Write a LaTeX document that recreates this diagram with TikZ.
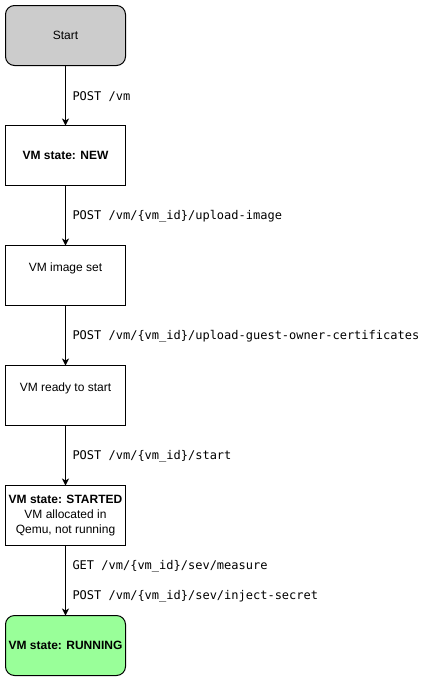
\documentclass[tikz,border=0pt]{standalone}
\usepackage{fontspec}
\setmainfont{Liberation Sans}
\setmonofont{DejaVu Sans Mono}
\usetikzlibrary{positioning,arrows.meta}
\definecolor{startgray}{HTML}{CCCCCC}
\definecolor{rungreen}{HTML}{99FF99}
\tikzset{
  state/.style={draw,line width=1pt,minimum width=120pt,minimum height=60pt,
    inner sep=2pt,outer sep=0pt,align=center,font=\fontsize{12}{15}\selectfont},
  upstate/.style={state,text height=9pt,text depth=17pt},
  endstate/.style={state,rounded corners=9pt},
  lbl/.style={anchor=west,inner sep=0pt,xshift=6.5pt,yshift=-1pt,font=\ttfamily\fontsize{12}{14}\selectfont},
  flow/.style={line width=1pt,-{Stealth[length=7pt,width=7pt,inset=2pt]}}
}
\begin{document}
\begin{tikzpicture}[x=1pt,y=-1pt,node distance=60pt]
    \useasboundingbox (0,0) rectangle (431,681);
    \node[endstate,fill=startgray] (start) at (65.5,35.5) {Start};
    \node[state,below=of start] (new) {\bfseries VM state: NEW};
    \node[upstate,below=of new] (image) {VM image set};
    \node[upstate,below=of image] (ready) {VM ready to start};
    \node[state,below=of ready] (started) {\bfseries VM state: STARTED\\VM allocated in\\Qemu, not running};
    \node[endstate,fill=rungreen,below=70pt of started] (running) {\bfseries VM state: RUNNING};
    % edges
    \draw[flow] (start) -- (new) node [lbl,pos=0.5] {POST /vm};
    \draw[flow] (new) -- (image) node [lbl,pos=0.5] {POST /vm/\{vm\_id\}/upload-image};
    \draw[flow] (image) -- (ready) node [lbl,pos=0.5] {POST /vm/\{vm\_id\}/upload-guest-owner-certificates};
    \draw[flow] (ready) -- (started) node [lbl,pos=0.5] {POST /vm/\{vm\_id\}/start};
    \draw[flow] (started) -- (running)
      node [lbl,pos=0.29] {GET /vm/\{vm\_id\}/sev/measure}
      node [lbl,pos=0.71] {POST /vm/\{vm\_id\}/sev/inject-secret};
  \end{tikzpicture}
\end{document}
